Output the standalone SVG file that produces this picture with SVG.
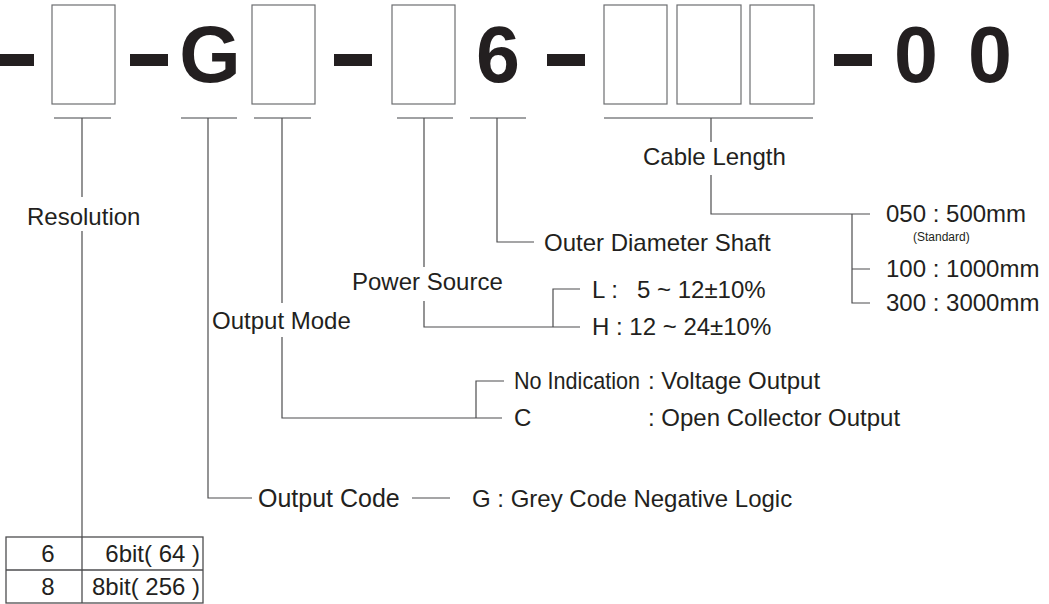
<svg xmlns="http://www.w3.org/2000/svg" width="1049" height="604" viewBox="0 0 1049 604">
<style>
.bg{fill:#ffffff}
.dash{fill:#231f20}
.big{font-family:"Liberation Sans",Arial,sans-serif;font-weight:bold;font-size:79px;fill:#231f20;text-anchor:middle}
.box{fill:none;stroke:#6d6e71;stroke-width:1.2}
.t{font-family:"Liberation Sans",Arial,sans-serif;font-size:24px;fill:#231f20}
.s{font-family:"Liberation Sans",Arial,sans-serif;font-size:12px;fill:#231f20}
.ul{fill:none;stroke:#808285;stroke-width:1.4}
.ln{fill:none;stroke:#4d4d4f;stroke-width:1.2}
.tb{fill:none;stroke:#4d4d4f;stroke-width:1.3}
</style>
<rect class="bg" x="0" y="0" width="1049" height="604"/>
<g id="code">
<rect class="dash" x="0" y="54" width="34" height="12"/>
<rect class="dash" x="130" y="54" width="38" height="12"/>
<rect class="dash" x="334" y="54" width="38" height="12"/>
<rect class="dash" x="547" y="54" width="38" height="12"/>
<rect class="dash" x="834" y="54" width="38" height="12"/>
<text class="big" x="210" y="82">G</text>
<text class="big" x="498" y="82">6</text>
<text class="big" x="916" y="82">0</text>
<text class="big" x="990" y="82">0</text>
</g>
<g id="box-resolution"><rect class="box" x="52" y="5" width="63" height="99"/></g>
<g id="box-output-mode"><rect class="box" x="252" y="5" width="63" height="99"/></g>
<g id="box-power"><rect class="box" x="392" y="5" width="63" height="99"/></g>
<g id="box-cable1"><rect class="box" x="604" y="5" width="63" height="99"/></g>
<g id="box-cable2"><rect class="box" x="677" y="5" width="64" height="99"/></g>
<g id="box-cable3"><rect class="box" x="750" y="5" width="64" height="99"/></g>
<g id="connectors">
<line class="ul" x1="54" y1="118" x2="111" y2="118"/>
<line class="ul" x1="181" y1="118" x2="237" y2="118"/>
<line class="ul" x1="254" y1="118" x2="311" y2="118"/>
<line class="ul" x1="397" y1="118" x2="453" y2="118"/>
<line class="ul" x1="470" y1="118" x2="526" y2="118"/>
<line class="ul" x1="604" y1="118" x2="813" y2="118"/>
<path class="ln" d="M82 118V197M82 231V537"/>
<path class="ln" d="M208 118V498H252M412 498H450"/>
<path class="ln" d="M282 118V303M282 337V418H502M476 418V381H504"/>
<path class="ln" d="M424 118V267M424 301V327H580M553 327V289H580"/>
<path class="ln" d="M497 118V242H534"/>
<path class="ln" d="M711 118V142M711 175V214H870M852 214V303H870M852 269H870"/>
</g>
<g id="resolution">
<text class="t" x="27" y="225">Resolution</text>
</g>
<g id="output-code">
<text class="t" x="258" y="507" style="font-size:25px">Output Code</text>
<text class="t" x="472" y="507">G : Grey Code Negative Logic</text>
</g>
<g id="output-mode">
<text class="t" x="212" y="329">Output Mode</text>
<text class="t" x="514" y="389" textLength="126" lengthAdjust="spacingAndGlyphs">No Indication</text>
<text class="t" x="648" y="389">: Voltage Output</text>
<text class="t" x="514" y="426">C</text>
<text class="t" x="648" y="426">: Open Collector Output</text>
</g>
<g id="power-source">
<text class="t" x="352" y="290">Power Source</text>
<text class="t" x="592" y="298">L :</text>
<text class="t" x="637" y="298">5 ~ 12±10%</text>
<text class="t" x="592" y="335">H : 12 ~ 24±10%</text>
</g>
<g id="outer-diameter">
<text class="t" x="544" y="251">Outer Diameter Shaft</text>
</g>
<g id="cable-length">
<text class="t" x="643" y="165">Cable Length</text>
<text class="t" x="886" y="222">050 : 500mm</text>
<text class="s" x="913" y="241">(Standard)</text>
<text class="t" x="886" y="277">100 : 1000mm</text>
<text class="t" x="886" y="311">300 : 3000mm</text>
</g>
<g id="resolution-table">
<rect class="tb" x="6" y="537" width="197" height="66"/>
<line class="tb" x1="6" y1="570" x2="203" y2="570"/>
<line class="tb" x1="82" y1="537" x2="82" y2="603"/>
<text class="t" x="48" y="562" text-anchor="middle">6</text>
<text class="t" x="48" y="595" text-anchor="middle">8</text>
<text class="t" x="200" y="562" text-anchor="end">6bit( 64 )</text>
<text class="t" x="200" y="595" text-anchor="end">8bit( 256 )</text>
</g>
</svg>
